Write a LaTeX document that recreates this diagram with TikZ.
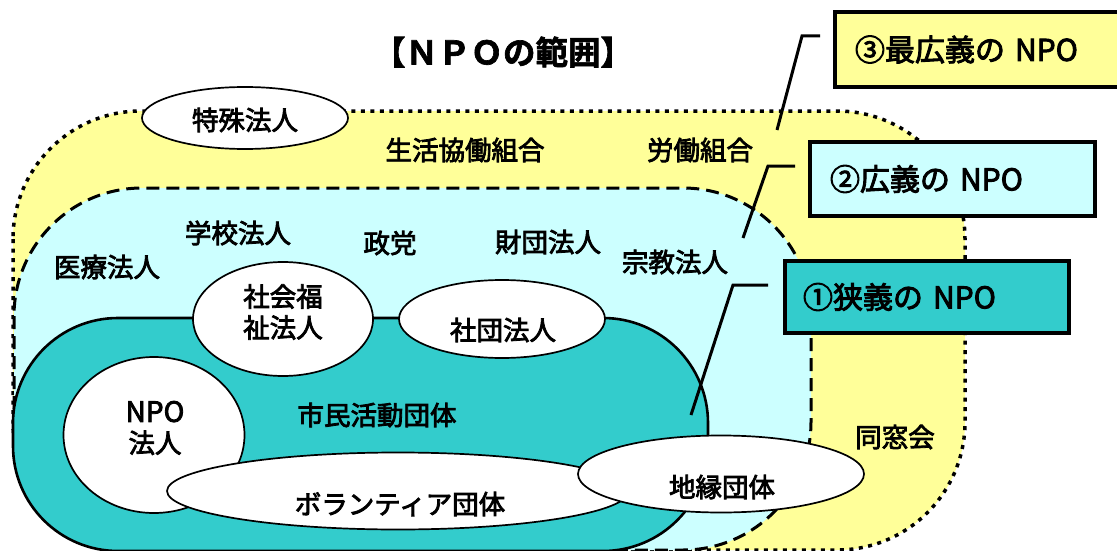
\documentclass[tikz,border=0pt]{standalone}
\usepackage{fontspec}
\setmainfont{Noto Sans CJK JP}
\newfontfamily\jpm[FakeBold=3]{Noto Sans CJK JP}
\newfontfamily\jpt[FakeBold=2]{Noto Sans CJK JP Bold}
\usetikzlibrary{shapes.geometric}
\definecolor{cyel}{HTML}{FFFF99}
\definecolor{ccyan}{HTML}{CCFFFF}
\definecolor{cteal}{HTML}{33CCCC}
\begin{document}
\begin{tikzpicture}[x=1pt,y=-1pt,
  lbl/.style={font=\jpm\fontsize{26.5}{31}\selectfont, inner sep=0, align=center},
  ell/.style={ellipse, draw, line width=1.7pt, fill=white, inner sep=0},
  callout/.style={draw, line width=3.3pt, anchor=north west, outer sep=0, inner ysep=0,
    font=\jpm\fontsize{30}{34}\selectfont, align=left},
  leader/.style={line width=3pt},
  region3/.style={fill=cyel, line width=3.5pt, dash pattern=on 4pt off 5.5pt, rounded corners=128pt},
  region2/.style={fill=ccyan, line width=3pt, dash pattern=on 13pt off 7pt, rounded corners=128pt},
  region1/.style={fill=cteal, line width=2.6pt, rounded corners=105pt}]
\useasboundingbox (0,0) rectangle (1117,551);
\clip (0,0) rectangle (1117,551);

% nested regions
\draw[region3] (13,111) rectangle (965,550);
\draw[region2] (14,188) rectangle (811,550);
\draw[region1] (13,318) rectangle (708,551);

% title
\node[font=\jpt\fontsize{32.5}{34}\selectfont, inner sep=0] (title) at (503,52) {【ＮＰＯの範囲】};

% free labels
\node[lbl] (seikatsu) at (465,150) {生活協働組合};
\node[lbl] (roudou) at (700,150) {労働組合};
\node[lbl] (gakkou) at (238,233) {学校法人};
\node[lbl] (seitou) at (390,243) {政党};
\node[lbl] (zaidan) at (548,242) {財団法人};
\node[lbl] (shuukyou) at (675,262) {宗教法人};
\node[lbl] (iryou) at (107,267) {医療法人};
\node[lbl] (shimin) at (377,415) {市民活動団体};
\node[lbl] (dousou) at (895,437) {同窓会};

% ellipses
\node[ell, minimum width=206pt, minimum height=62pt] (tokushu) at (245,118) {};
\node[lbl] at (245,120) {特殊法人};
\node[ell, minimum width=180pt, minimum height=114pt] (shakai) at (283,319) {};
\node[lbl] at (283,312) {社会福\\祉法人};
\node[ell, minimum width=206pt, minimum height=78pt] (shadan) at (502,319) {};
\node[lbl] at (503,330) {社団法人};
\node[ell, minimum width=181pt, minimum height=156pt] (npo) at (154,435) {};
\node[lbl] at (155,428) {\fontsize{28}{31}\selectfont NPO\\法人};
\node[ell, minimum width=462pt, minimum height=77pt] (vol) at (398,491) {};
\node[lbl] at (400,504) {ボランティア団体};
\node[ell, minimum width=286pt, minimum height=77pt] (chien) at (721,474) {};
\node[lbl] at (722,487) {地縁団体};

% leader lines
\coordinate (a3) at (820,36); \coordinate (b3) at (802,36); \coordinate (c3) at (777,130);
\coordinate (a2) at (795,166); \coordinate (b2) at (768,166); \coordinate (c2) at (743,238);
\coordinate (a1) at (768,285); \coordinate (b1) at (733,285); \coordinate (c1) at (691,415);
\draw[leader] (a3) -- (b3) -- (c3);
\draw[leader] (a2) -- (b2) -- (c2);
\draw[leader] (a1) -- (b1) -- (c1);

% callout boxes
\node[callout, fill=cyel, inner xsep=20pt, text width=255pt, minimum height=75pt] (box3) at (835,12) {③最広義の NPO};
\node[callout, fill=ccyan, inner xsep=20pt, text width=245pt, minimum height=74pt] (box2) at (810,142) {②広義の NPO};
\node[callout, fill=cteal, inner xsep=18pt, text width=248pt, minimum height=72pt] (box1) at (785,261) {①狭義の NPO};
\end{tikzpicture}
\end{document}
